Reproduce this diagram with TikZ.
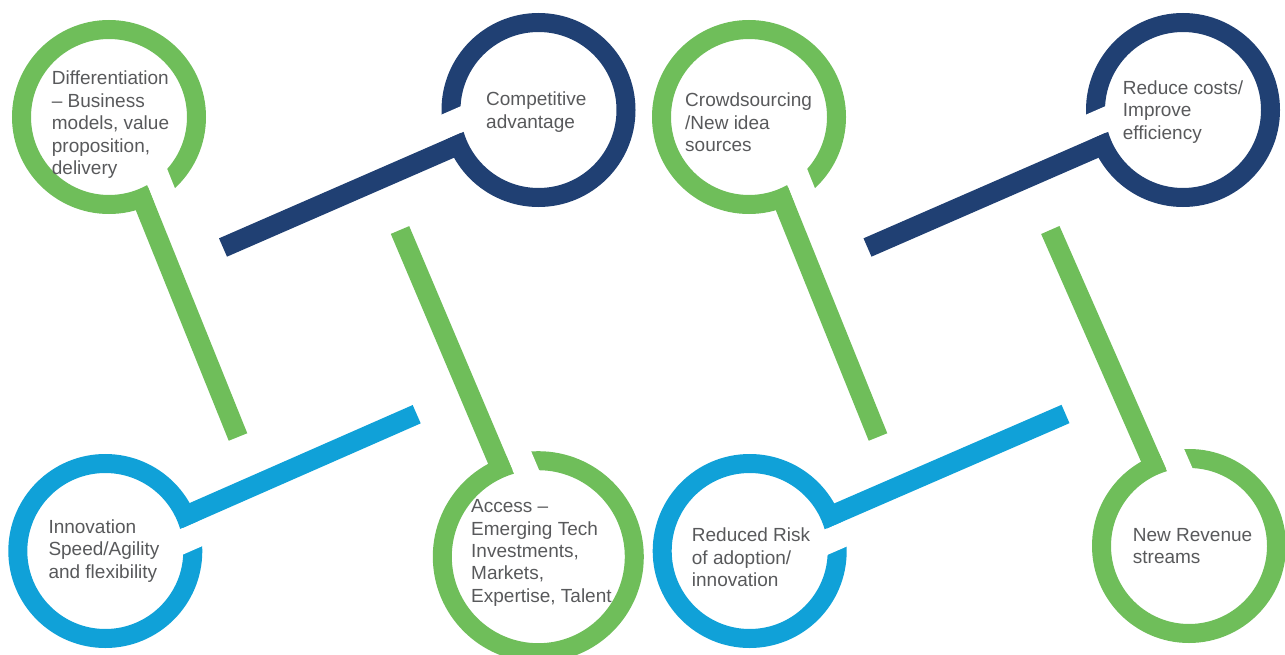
\documentclass[tikz,border=0pt]{standalone}
\usepackage{fontspec}
\setmainfont{Liberation Sans}
\usetikzlibrary{calc}
\definecolor{ringgreen}{RGB}{111,190,90}
\definecolor{ringnavy}{RGB}{32,64,115}
\definecolor{ringblue}{RGB}{16,161,216}
\definecolor{txtgray}{RGB}{88,89,91}
% #1 ring node, #2 stick angle, #3 normal angle (gap side), #4 radial start
\newcommand\gapcut[4]{%
  \fill[white] ($(#1)+(#2:#4)+(#3:10)$) -- ($(#1)+(#2:#4+48)+(#3:10)$)
    -- ($(#1)+(#2:#4+48)+(#3:34.5)$) -- ($(#1)+(#2:#4)+(#3:34.5)$) -- cycle;}
\begin{document}
\begin{tikzpicture}[x=1pt,y=-1pt,
  ring/.style={circle, draw=#1, line width=19pt, minimum size=175pt, inner sep=0pt, outer sep=0pt},
  bigring/.style={ring=#1, minimum size=192pt},
  stick/.style={draw=#1, line width=20pt, line cap=butt, shorten <=80pt},
  txt/.style={anchor=base west, inner sep=0pt, text=txtgray,
    font=\fontsize{19}{22.4}\selectfont}]
\clip (0,0) rectangle (1285,655);
% rings
\node[ring=ringgreen] (r1) at (109,117) {};
\node[ring=ringnavy] (r2) at (538.5,110) {};
\node[ring=ringblue] (r3) at (105.3,551) {};
\node[bigring=ringgreen] (r4) at (538.3,556.7) {};
\node[ring=ringgreen] (r5) at (749,117) {};
\node[ring=ringnavy] (r6) at (1183,110) {};
\node[ring=ringblue] (r7) at (749.7,551) {};
\node[ring=ringgreen] (r8) at (1189,546) {};
% stick ends
\coordinate (e1) at (238,437);
\coordinate (e2) at (223,247.5);
\coordinate (e3) at (416.7,414.2);
\coordinate (e4) at (400,230);
\coordinate (e5) at (878,437);
\coordinate (e6) at (867.5,247.5);
\coordinate (e7) at (1065.5,414);
\coordinate (e8) at (1050.3,230);
% gaps
\gapcut{r1}{68.05}{-21.95}{60}
\gapcut{r2}{156.45}{246.45}{60}
\gapcut{r3}{-23.71}{66.29}{60}
\gapcut{r4}{247.05}{337.05}{68}
\gapcut{r5}{68.05}{-21.95}{60}
\gapcut{r6}{156.45}{246.45}{60}
\gapcut{r7}{-23.45}{66.55}{60}
\gapcut{r8}{246.3}{336.3}{60}
% sticks
\draw[stick=ringgreen] (r1.center) -- (e1);
\draw[stick=ringnavy] (r2.center) -- (e2);
\draw[stick=ringblue] (r3.center) -- (e3);
\draw[stick=ringgreen, shorten <=90pt] (r4.center) -- (e4);
\draw[stick=ringgreen] (r5.center) -- (e5);
\draw[stick=ringnavy] (r6.center) -- (e6);
\draw[stick=ringblue] (r7.center) -- (e7);
\draw[stick=ringgreen] (r8.center) -- (e8);
% texts
\node[txt] (t1) at (51.7,85) {\parbox[t]{170pt}{\raggedright Differentiation\\– Business\\models, value\\proposition,\\delivery}};
\node[txt] (t2) at (486,106) {\parbox[t]{170pt}{\raggedright Competitive\\advantage}};
\node[txt] (t3) at (48.3,533.3) {\parbox[t]{170pt}{\raggedright Innovation\\Speed/Agility\\and flexibility}};
\node[txt] (t4) at (471,512.7) {\parbox[t]{170pt}{\raggedright Access –\\Emerging Tech\\Investments,\\Markets,\\Expertise, Talent}};
\node[txt] (t5) at (685,106.7) {\parbox[t]{170pt}{\raggedright Crowdsourcing\\/New idea\\sources}};
\node[txt] (t6) at (1122.7,94.3) {\parbox[t]{170pt}{\raggedright Reduce costs/\\Improve\\efficiency}};
\node[txt] (t7) at (691.7,541.7) {\parbox[t]{170pt}{\raggedright Reduced Risk\\of adoption/\\innovation}};
\node[txt] (t8) at (1132.7,541) {\parbox[t]{170pt}{\raggedright New Revenue\\streams}};
\end{tikzpicture}
\end{document}
